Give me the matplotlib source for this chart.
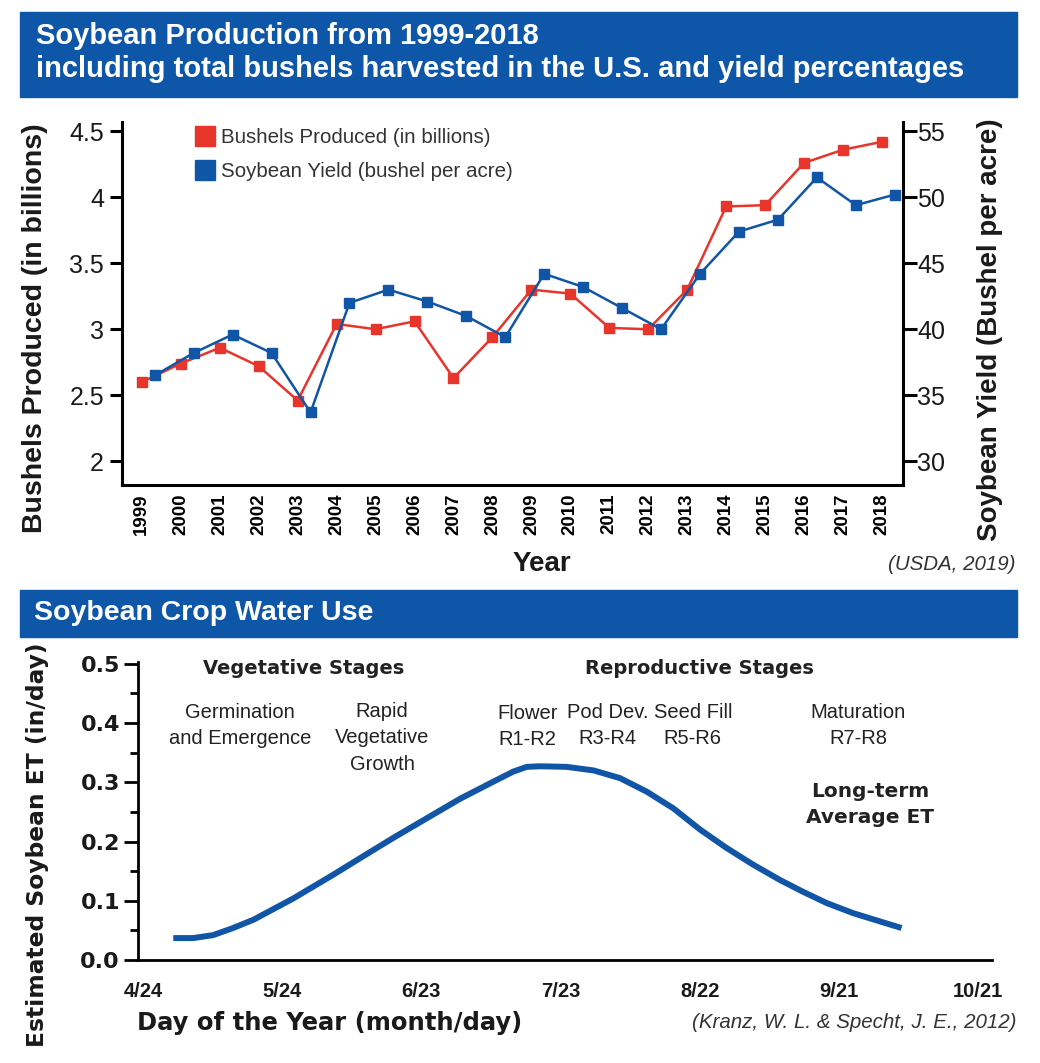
import numpy as np
import matplotlib.pyplot as plt
from matplotlib.patches import Rectangle
from matplotlib.lines import Line2D

plt.rcParams['font.family'] = ['Liberation Sans', 'DejaVu Sans']

# production data
years = list(range(1999, 2019))
bushels = [2.60, 2.74, 2.86, 2.72, 2.46, 3.04, 3.00, 3.06, 2.63, 2.94,
           3.30, 3.27, 3.01, 3.00, 3.30, 3.93, 3.94, 4.26, 4.36, 4.42]
yield_bpa = [36.5, 38.2, 39.6, 38.2, 33.7, 42.0, 43.0, 42.1, 41.0, 39.4,
             44.2, 43.2, 41.6, 40.0, 44.2, 47.4, 48.3, 51.5, 49.4, 50.2]

# crop water use curve (day of year, in/day)
et_days = [120.5, 124.8, 129.1, 133.4, 137.8, 142.1, 146.4, 150.7, 155.0, 160.8,
           167.9, 175.1, 182.3, 189.5, 193.8, 196.7, 199.6, 205.3, 211.1, 216.8,
           222.6, 228.3, 234.1, 239.8, 245.5, 251.3, 256.3, 261.4, 267.1, 272.9,
           277.5]
et_vals = [0.037, 0.037, 0.042, 0.054, 0.068, 0.086, 0.104, 0.124, 0.144, 0.172,
           0.206, 0.239, 0.272, 0.301, 0.318, 0.326, 0.327, 0.326, 0.320, 0.307,
           0.284, 0.256, 0.220, 0.189, 0.161, 0.135, 0.115, 0.096, 0.079, 0.065,
           0.054]
date_ticks = [114, 144, 174, 204, 234, 264, 294]
date_labels = ['4/24', '5/24', '6/23', '7/23', '8/22', '9/21', '10/21']

RED = '#e8352c'
BLUE = '#1155a6'
BANNER = '#0d56a8'
DARK = '#1a1a1a'
WIDE = ['DejaVu Sans']

W, H = 1040, 1063
fig = plt.figure(figsize=(W / 100, H / 100), dpi=100)


def fx(px):
    return px / W


def fy(py):
    return 1 - py / H


# banners
fig.patches.append(Rectangle((fx(20), fy(97)), fx(997), 85 / H, transform=fig.transFigure,
                             color=BANNER, zorder=0))
fig.patches.append(Rectangle((fx(20), fy(637)), fx(997), 47 / H, transform=fig.transFigure,
                             color=BANNER, zorder=0))
fig.text(fx(36), fy(36), 'Soybean Production from 1999-2018', color='white',
         fontsize=21, fontweight='bold', va='center', ha='left')
fig.text(fx(36), fy(69), 'including total bushels harvested in the U.S. and yield percentages',
         color='white', fontsize=21, fontweight='bold', va='center', ha='left')
fig.text(fx(34), fy(613), 'Soybean Crop Water Use', color='white',
         fontsize=20.5, fontweight='bold', va='center', ha='left')

# ---- top chart ----
ax = fig.add_axes([fx(122), fy(485), fx(781), 363 / H])
ax2 = ax.twinx()
ylo, yhi = 1.82, 4.57
ax.set_ylim(ylo, yhi)
ax2.set_ylim(30 + (ylo - 2) * 10, 30 + (yhi - 2) * 10)
ax.set_xlim(1998.49, 2018.54)

ax.plot(years, bushels, color=RED, lw=1.8, marker='s', ms=6.5, zorder=3)
ax2.plot([y + 0.33 for y in years], yield_bpa, color=BLUE, lw=1.8, marker='s', ms=6.5, zorder=3)

for a in (ax, ax2):
    a.spines['top'].set_visible(False)
    for s in a.spines.values():
        s.set_linewidth(2.2)
ax.spines['right'].set_visible(False)
ax2.spines['left'].set_visible(False)
ax2.spines['bottom'].set_visible(False)

ax.set_yticks([2, 2.5, 3, 3.5, 4, 4.5])
ax.set_yticklabels(['2', '2.5', '3', '3.5', '4', '4.5'])
ax2.set_yticks([30, 35, 40, 45, 50, 55])
ax.tick_params(axis='y', length=9, width=2.2, labelsize=18, pad=4, labelcolor=DARK)
ax2.tick_params(axis='y', length=10, width=2.2, labelsize=18, pad=0, labelcolor=DARK)
ax.set_xticks(years)
ax.set_xticklabels([str(y) for y in years], rotation=90, fontsize=13.5, fontweight='bold')
ax.tick_params(axis='x', length=0, pad=6)

handles = [Line2D([], [], ls='none', marker='s', ms=14, color=RED),
           Line2D([], [], ls='none', marker='s', ms=14, color=BLUE)]
ax.legend(handles, ['Bushels Produced (in billions)', 'Soybean Yield (bushel per acre)'],
          loc='upper left', bbox_to_anchor=(0.07, 1.035), frameon=False, fontsize=14.8,
          handletextpad=0.25, labelspacing=0.75, handlelength=1.0, labelcolor='#333333')

fig.text(fx(35), fy(328), 'Bushels Produced (in billions)', rotation=90, fontsize=20.5,
         fontweight='bold', ha='center', va='center', color=DARK)
fig.text(fx(990), fy(330), 'Soybean Yield (Bushel per acre)', rotation=90, fontsize=20,
         fontweight='bold', ha='center', va='center', color=DARK)
fig.text(fx(542), fy(564), 'Year', fontsize=20, fontweight='bold', ha='center', va='center',
         color=DARK)
fig.text(fx(1015), fy(565), '(USDA, 2019)', fontsize=14.8, style='italic', ha='right',
         va='center', color='#333333')

# ---- bottom chart ----
bx = fig.add_axes([fx(138), fy(960), fx(854), 298 / H])
bx.plot(et_days, et_vals, color=BLUE, lw=4.3, solid_capstyle='butt', solid_joinstyle='round')
bx.set_xlim(112.9, 297.0)
bx.set_ylim(0, 0.503)
bx.spines['top'].set_visible(False)
bx.spines['right'].set_visible(False)
bx.spines['left'].set_linewidth(2)
bx.spines['bottom'].set_linewidth(2)
bx.set_yticks([0.0, 0.1, 0.2, 0.3, 0.4, 0.5])
bx.set_yticklabels(['0.0', '0.1', '0.2', '0.3', '0.4', '0.5'])
bx.set_yticks(np.arange(0.05, 0.5, 0.1), minor=True)
bx.tick_params(axis='y', which='major', length=10, width=2, pad=3)
bx.tick_params(axis='y', which='minor', length=6, width=2)
for lab in bx.get_yticklabels():
    lab.set_fontweight('bold')
    lab.set_fontfamily(WIDE)
    lab.set_fontsize(16)
    lab.set_color(DARK)
bx.set_xticks(date_ticks)
bx.set_xticklabels(date_labels, fontsize=14.5, fontweight='bold', color=DARK)
bx.tick_params(axis='x', length=0, pad=16)

txt = dict(ha='center', va='center', fontsize=14.5, color='#222222', linespacing=1.5)
head = dict(ha='center', va='center', fontsize=14, color='#222222', fontweight='bold',
            family=WIDE)
bx.text(148.5, 0.4916, 'Vegetative Stages', **head)
bx.text(234.0, 0.4916, 'Reproductive Stages', **head)
bx.text(134.9, 0.396, 'Germination\nand Emergence', **txt)
bx.text(165.5, 0.375, 'Rapid\nVegetative\nGrowth', **txt)
bx.text(196.8, 0.394, 'Flower\nR1-R2', **txt)
bx.text(214.2, 0.396, 'Pod Dev.\nR3-R4', **txt)
bx.text(232.5, 0.396, 'Seed Fill\nR5-R6', **txt)
bx.text(268.1, 0.396, 'Maturation\nR7-R8', **txt)
bx.text(270.7, 0.262, 'Long-term\nAverage ET', linespacing=1.45,
        **{**head, 'fontsize': 14.5})

fig.text(fx(38), fy(845), 'Estimated Soybean ET (in/day)', rotation=90, fontsize=16.8,
         fontweight='bold', ha='center', va='center', color=DARK, family=WIDE)
fig.text(fx(137), fy(1023), 'Day of the Year (month/day)', fontsize=17.5, fontweight='bold',
         ha='left', va='center', color=DARK, family=WIDE)
fig.text(fx(1017), fy(1023), '(Kranz, W. L. & Specht, J. E., 2012)', fontsize=14.8,
         style='italic', ha='right', va='center', color='#333333')

fig.savefig('out.png', dpi=100)
